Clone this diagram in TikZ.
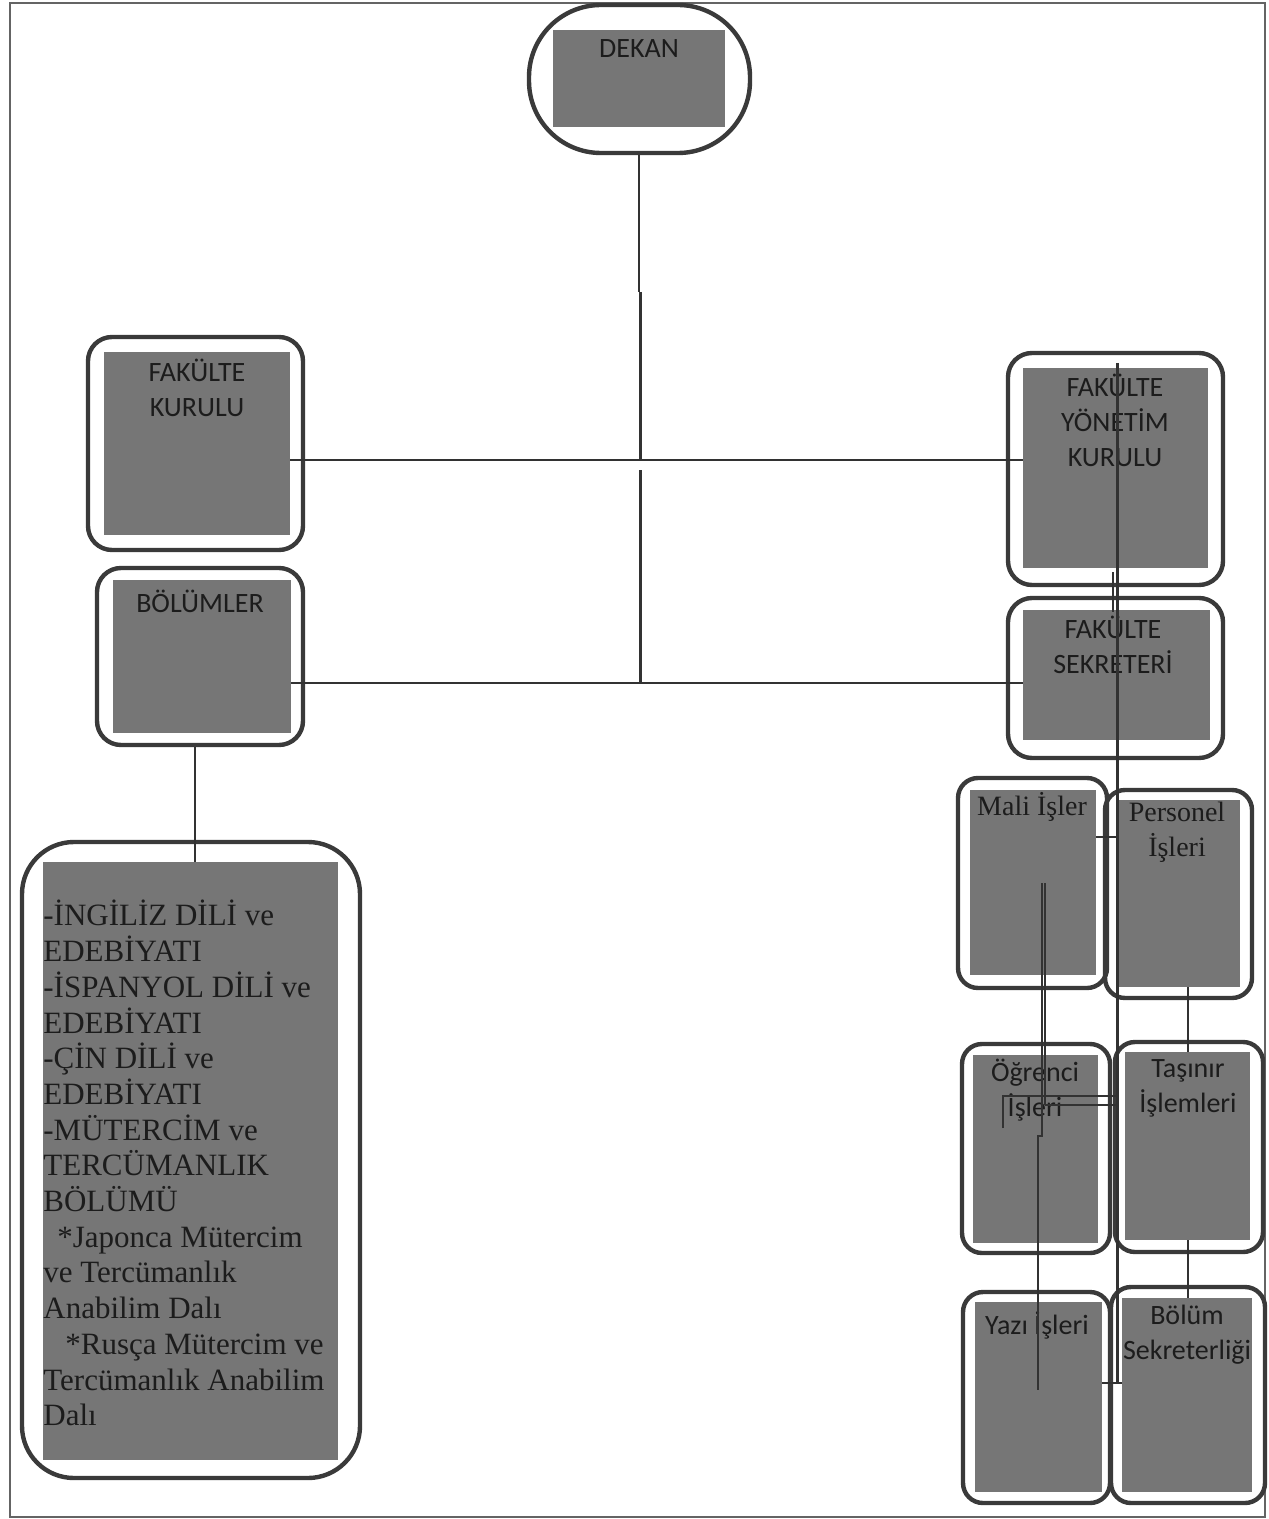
\documentclass[tikz,border=0pt]{standalone}
\usepackage{fontspec}
\setmainfont{Liberation Serif}
\newfontfamily\calib{Carlito}
\usetikzlibrary{fit}
\definecolor{boxline}{RGB}{58,58,58}
\definecolor{boxfill}{RGB}{118,118,118}
\definecolor{inkc}{RGB}{28,28,28}
\definecolor{linec}{RGB}{50,50,50}
\definecolor{pagec}{RGB}{100,100,100}
\begin{document}
\begin{tikzpicture}[x=0.5pt,y=-0.5pt,
  outerbox/.style={draw=boxline, line width=2.2pt, rounded corners=12pt, inner sep=0pt},
  graybox/.style={fill=boxfill, draw=none, inner sep=0pt},
  sanst/.style={font=\calib\fontsize{14}{17.5}\selectfont, text=inkc, align=center, inner sep=0pt},
  serift/.style={font=\fontsize{14}{17.5}\selectfont, text=inkc, align=center, inner sep=0pt},
  deptt/.style={font=\fontsize{15.5}{17.85}\selectfont, text=inkc, align=left, inner sep=0pt},
  conn/.style={draw=linec, line width=0.8pt},
  thickconn/.style={draw=linec, line width=1.5pt}]

\useasboundingbox (0,0) rectangle (1268,1519);
\draw[pagec, line width=1pt] (10,3) rectangle (1265,1517);

% DEKAN
\node[outerbox, rounded corners=36pt, fit={(529,5)(750,153)}] (dekanO) {};
\node[graybox, fit={(553,30)(725,127)}] (dekan) {};
\node[sanst] (dekanT) at (639,49) {DEKAN};

% FAKULTE KURULU
\node[outerbox, fit={(88,337)(303,550)}] (fkO) {};
\node[graybox, fit={(104,352)(290,535)}] (fk) {};
\node[sanst] (fkT) at (197,388) {FAKÜLTE\\KURULU};

% BOLUMLER
\node[outerbox, fit={(97,568)(303,745)}] (bolO) {};
\node[graybox, fit={(113,580)(291,733)}] (bol) {};
\node[sanst] (bolT) at (200,601) {BÖLÜMLER};

% Departments
\node[outerbox, rounded corners=26pt, fit={(22,842)(360,1478)}] (deptO) {};
\node[graybox, fit={(43,862)(338,1460)}] (dept) {};
\node[deptt, anchor=north west] (deptT) at (43,900) {-İNGİLİZ DİLİ ve\\EDEBİYATI\\-İSPANYOL DİLİ ve\\EDEBİYATI\\-ÇİN DİLİ ve\\EDEBİYATI\\-MÜTERCİM ve\\TERCÜMANLIK\\BÖLÜMÜ\\\hspace*{7pt}*Japonca Mütercim\\ve Tercümanlık\\Anabilim Dalı\\\hspace*{11pt}*Rusça Mütercim ve\\Tercümanlık Anabilim\\Dalı};

% FAKULTE YONETIM KURULU
\node[outerbox, fit={(1008,353)(1223,585)}] (fykO) {};
\node[graybox, fit={(1023,368)(1208,568)}] (fyk) {};
\node[sanst] (fykT) at (1115,420) {FAKÜLTE\\YÖNETİM\\KURULU};

% FAKULTE SEKRETERI
\node[outerbox, fit={(1008,598)(1223,758)}] (fsO) {};
\node[graybox, fit={(1023,610)(1210,740)}] (fs) {};
\node[sanst] (fsT) at (1113,645) {FAKÜLTE\\SEKRETERİ};

% Mali Isler
\node[outerbox, rounded corners=10pt, fit={(958,778)(1107,988)}] (maliO) {};
\node[graybox, fit={(970,790)(1096,975)}] (mali) {};
\node[serift] (maliT) at (1032,807) {Mali İşler};

% Personel Isleri
\node[outerbox, rounded corners=10pt, fit={(1105,790)(1252,998)}] (persO) {};
\node[graybox, fit={(1118,800)(1240,987)}] (pers) {};
\node[serift] (persT) at (1177,832) {Personel\\İşleri};

% Ogrenci Isleri
\node[outerbox, rounded corners=10pt, fit={(962,1044)(1110,1253)}] (ogrO) {};
\node[graybox, fit={(973,1055)(1098,1243)}] (ogr) {};
\node[sanst] (ogrT) at (1035,1090) {Öğrenci\\İşleri};

% Tasinir Islemleri
\node[outerbox, rounded corners=10pt, fit={(1115,1042)(1263,1252)}] (tasO) {};
\node[graybox, fit={(1125,1052)(1250,1240)}] (tas) {};
\node[sanst] (tasT) at (1188,1088) {Taşınır\\İşlemleri};

% Yazi Isleri
\node[outerbox, rounded corners=10pt, fit={(963,1292)(1110,1503)}] (yaziO) {};
\node[graybox, fit={(975,1302)(1102,1492)}] (yazi) {};
\node[sanst] (yaziT) at (1037,1325) {Yazı İşleri};

% Bolum Sekreterligi
\node[outerbox, rounded corners=10pt, fit={(1111,1287)(1265,1503)}] (bsO) {};
\node[graybox, fit={(1122,1298)(1252,1492)}] (bs) {};
\node[sanst] (bsT) at (1187,1335) {Bölüm\\Sekreterliği};

% junction coordinates
\coordinate (j0) at (640,292);
\coordinate (j1) at (640,460);
\coordinate (j1b) at (640,470);
\coordinate (j2) at (640,683);
\coordinate (rv) at (1117,363);
\coordinate (rvend) at (1117,1383);
\coordinate (dl) at (195,0);

% central trunk
\draw[conn] (dekanO.south -| 639,0) -- (639,292);
\draw[thickconn] (j0) -- (j1);
\draw[thickconn] (j1b) -- (j2);
\draw[conn] (fk.east |- j1) -- (j1) -- (fyk.west |- j1);
\draw[conn] (bol.east |- j2) -- (j2) -- (fs.west |- j2);
\draw[conn] (bolO.south -| dl) -- (dept.north -| dl);

% right column trunk
\draw[thickconn] (rv) -- (rvend);
\draw[conn] (1113,572) -- (1113,612);
\draw[conn] (yazi.east |- rvend) -- (bs.west |- rvend);
\draw[conn] (mali.east |- 0,837) -- (rv |- 0,837);

% Mali -> Yazi
\draw[conn] (1042,883) -- (1042,1136) -- (1038,1136) -- (1038,1390);
\draw[conn] (1045,883) -- (1045,1105);
% Ogrenci bracket
\draw[conn] (1003,1128) -- (1003,1096) -- (rv |- 0,1096);
\draw[conn] (1045,1105) -- (rv |- 0,1105);

% Personel -> Tasinir -> Bolum Sekreterligi
\draw[conn] (pers.south -| 1188,0) -- (tas.north -| 1188,0);
\draw[conn] (tas.south -| 1188,0) -- (bs.north -| 1188,0);
\end{tikzpicture}
\end{document}
